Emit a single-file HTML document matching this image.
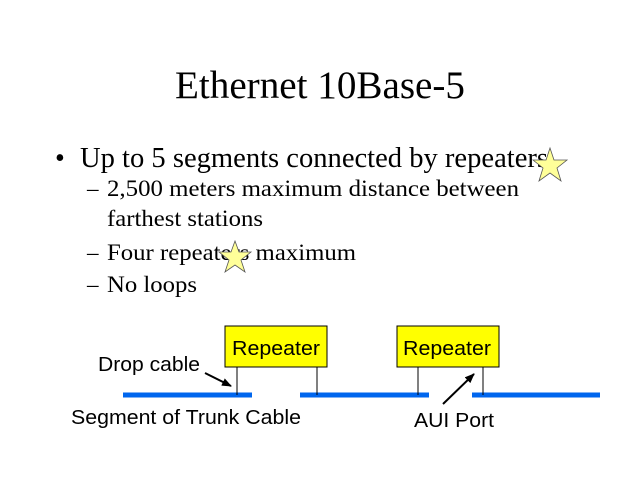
<!DOCTYPE html>
<html><head><style>html,body{margin:0;padding:0;background:#fff}svg{display:block}</style></head>
<body>
<svg width="640" height="480" xmlns="http://www.w3.org/2000/svg">
<defs><marker id="ah" markerWidth="10" markerHeight="8" refX="9" refY="4" orient="auto" markerUnits="userSpaceOnUse"><path d="M0,0 L10,4 L0,8 z" fill="#000"/></marker></defs>
<g font-family="Liberation Serif, serif" fill="#000">
<text x="175" y="98" font-size="39" textLength="290" lengthAdjust="spacingAndGlyphs">Ethernet 10Base-5</text>
<text x="55" y="167" font-size="28">•</text>
<text x="80" y="167" font-size="28" textLength="468" lengthAdjust="spacingAndGlyphs">Up to 5 segments connected by repeaters</text>
<text x="87" y="196" font-size="23">–</text>
<text x="107" y="196" font-size="23" textLength="412" lengthAdjust="spacingAndGlyphs">2,500 meters maximum distance between</text>
<text x="107" y="226" font-size="23" textLength="156" lengthAdjust="spacingAndGlyphs">farthest stations</text>
<text x="87" y="260" font-size="23">–</text>
<text x="107" y="260" font-size="23" textLength="249" lengthAdjust="spacingAndGlyphs">Four repeaters maximum</text>
<text x="87" y="292" font-size="23">–</text>
<text x="107" y="292" font-size="23" textLength="90" lengthAdjust="spacingAndGlyphs">No loops</text>
</g>
<polygon points="550,148 554,160 567,160 557,168 561,181 550,173 539,181 543,168 533,160 546,160" fill="#ffff99" stroke="#555" stroke-width="0.8"/>
<polygon points="235,241 239,252 251,252 241,260 245,272 235,265 225,272 229,260 219,252 231,252" fill="#ffff99" stroke="#555" stroke-width="0.8"/>
<g stroke="#0066ee" stroke-width="5">
<line x1="123" y1="395" x2="252" y2="395"/><line x1="300" y1="395" x2="429" y2="395"/><line x1="472" y1="395" x2="600" y2="395"/>
</g>
<g stroke="#000" stroke-width="1">
<line x1="237" y1="367" x2="237" y2="395"/><line x1="317" y1="367" x2="317" y2="395"/>
<line x1="418" y1="367" x2="418" y2="395"/><line x1="483" y1="367" x2="483" y2="395"/>
</g>
<rect x="225" y="326" width="102" height="41" fill="#ffff00" stroke="#000"/>
<rect x="397" y="326" width="102" height="41" fill="#ffff00" stroke="#000"/>
<g font-family="Liberation Sans, sans-serif" font-size="20" fill="#000">
<text x="232" y="355" textLength="88" lengthAdjust="spacingAndGlyphs">Repeater</text>
<text x="403" y="355" textLength="88" lengthAdjust="spacingAndGlyphs">Repeater</text>
<text x="98" y="371" textLength="102" lengthAdjust="spacingAndGlyphs">Drop cable</text>
<text x="71" y="424" textLength="230" lengthAdjust="spacingAndGlyphs">Segment of Trunk Cable</text>
<text x="414" y="427" textLength="80" lengthAdjust="spacingAndGlyphs">AUI Port</text>
</g>
<line x1="205" y1="373" x2="231" y2="386" stroke="#000" stroke-width="2" marker-end="url(#ah)"/>
<line x1="443" y1="404" x2="474" y2="374" stroke="#000" stroke-width="2" marker-end="url(#ah)"/>
</svg>
</body></html>
